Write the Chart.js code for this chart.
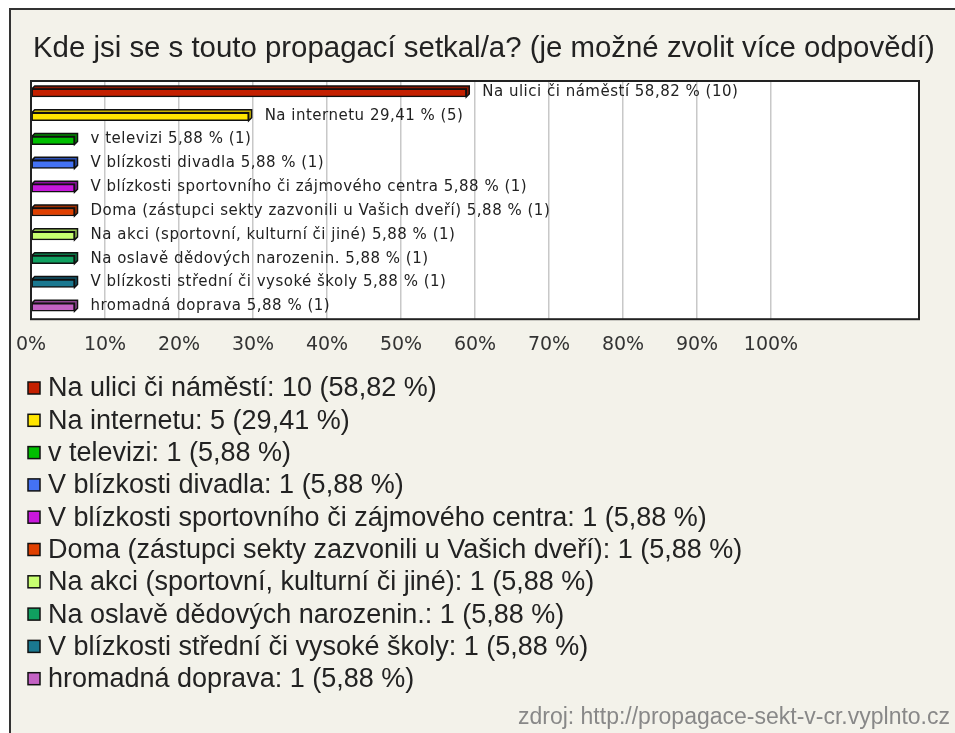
<!DOCTYPE html>
<html>
<head>
<meta charset="utf-8">
<script src="https://cdn.jsdelivr.net/npm/chart.js@4"></script>
<style>
  html, body { margin: 0; padding: 0; background: #fff; }
  canvas { display: block; }
</style>
</head>
<body>
<canvas id="chart" width="955" height="733"></canvas>
<script>
const titleText = "Kde jsi se s touto propagací setkal/a? (je možné zvolit více odpovědí)";
const sourceText = "zdroj: http://propagace-sekt-v-cr.vyplnto.cz";

const categories = [
  "Na ulici či náměstí",
  "Na internetu",
  "v televizi",
  "V blízkosti divadla",
  "V blízkosti sportovního či zájmového centra",
  "Doma (zástupci sekty zazvonili u Vašich dveří)",
  "Na akci (sportovní, kulturní či jiné)",
  "Na oslavě dědových narozenin.",
  "V blízkosti střední či vysoké školy",
  "hromadná doprava"
];
const percents = [58.82, 29.41, 5.88, 5.88, 5.88, 5.88, 5.88, 5.88, 5.88, 5.88];
const counts = [10, 5, 1, 1, 1, 1, 1, 1, 1, 1];
const colors = ["#c42000", "#ffe600", "#00bf00", "#4472f4", "#c818dc", "#e04000", "#c8ff70", "#10a060", "#1a7890", "#c462c4"];
const darkColors = ["#8a1600", "#c8b400", "#008a00", "#2c50b8", "#8e10a0", "#a02e00", "#98c850", "#0a7444", "#105468", "#8e4490"];

const pctText = p => p.toFixed(2).replace(".", ",") + " %";

// 3D look of the old bar chart: top and side face behind each bar
const bar3d = {
  id: "bar3d",
  beforeDatasetsDraw(chart){
    const ctx = chart.ctx;
    const d = 3;
    chart.getDatasetMeta(0).data.forEach((bar, i) => {
      const top = bar.y - bar.height / 2, bottom = bar.y + bar.height / 2;
      ctx.save();
      ctx.fillStyle = darkColors[i];
      ctx.strokeStyle = "#111";
      ctx.lineWidth = 1.5;
      ctx.beginPath();
      ctx.moveTo(bar.base, top);
      ctx.lineTo(bar.base + d, top - d);
      ctx.lineTo(bar.x + d, top - d);
      ctx.lineTo(bar.x + d, bottom - d);
      ctx.lineTo(bar.x, bottom);
      ctx.lineTo(bar.x, top);
      ctx.closePath();
      ctx.fill();
      ctx.stroke();
      ctx.restore();
    });
  },
  afterDatasetsDraw(chart){
    const ctx = chart.ctx;
    ctx.save();
    ctx.font = "15px 'DejaVu Sans'";
    ctx.letterSpacing = "0.5px";
    ctx.fillStyle = "#222";
    ctx.textBaseline = "middle";
    chart.getDatasetMeta(0).data.forEach((bar, i) => {
      const txt = categories[i] + " " + pctText(percents[i]) + " (" + counts[i] + ")";
      ctx.fillText(txt, bar.x + 16, bar.y - 1);
    });
    ctx.restore();
  }
};

const frame = {
  id: "frame",
  beforeDraw(chart){
    const ctx = chart.ctx;
    const a = chart.chartArea;
    ctx.save();
    ctx.fillStyle = "#fff";
    ctx.fillRect(0, 0, chart.width, chart.height);
    ctx.fillStyle = "#f3f2ea";
    ctx.fillRect(10, 9, chart.width, chart.height);
    ctx.strokeStyle = "#333";
    ctx.lineWidth = 2;
    ctx.strokeRect(10, 9, chart.width + 10, chart.height + 10);
    ctx.fillStyle = "#fff";
    ctx.fillRect(a.left, a.top, a.right - a.left, a.bottom - a.top);
    ctx.restore();
  },
  afterDraw(chart){
    const ctx = chart.ctx;
    const a = chart.chartArea;
    ctx.save();
    ctx.strokeStyle = "#222";
    ctx.lineWidth = 2;
    ctx.strokeRect(a.left, a.top, a.right - a.left, a.bottom - a.top);

    ctx.fillStyle = "#222";
    ctx.textBaseline = "middle";
    ctx.font = "29.4px 'Liberation Sans'";
    ctx.fillText(titleText, 33, 49);

    // legend
    ctx.font = "27px 'Liberation Sans'";
    categories.forEach((c, i) => {
      const y = 388 + i * 32.3;
      ctx.fillStyle = colors[i];
      ctx.fillRect(28, y - 6, 12, 12);
      ctx.strokeStyle = "#111";
      ctx.lineWidth = 1.5;
      ctx.strokeRect(28, y - 6, 12, 12);
      ctx.fillStyle = "#222";
      ctx.fillText(c + ": " + counts[i] + " (" + pctText(percents[i]) + ")", 48, y + 1);
    });

    ctx.fillStyle = "#888";
    ctx.font = "23px 'Liberation Sans'";
    ctx.textAlign = "right";
    ctx.fillText(sourceText, 950, 718);
    ctx.restore();
  }
};

new Chart(document.getElementById("chart"), {
  type: "bar",
  data: {
    labels: categories,
    datasets: [{
      data: percents,
      backgroundColor: colors,
      borderColor: "#111",
      borderWidth: 1.5,
      borderSkipped: false,
      barThickness: 8
    }]
  },
  options: {
    indexAxis: "y",
    responsive: false,
    animation: false,
    layout: { padding: { left: 31, right: 36, top: 81, bottom: 363 } },
    plugins: { legend: { display: false }, tooltip: { enabled: false } },
    scales: {
      y: { display: false },
      x: {
        min: 0,
        max: 120,
        border: { display: false },
        grid: {
          drawTicks: false,
          lineWidth: 1.5,
          color: c => (c.tick && c.tick.value <= 100 ? "#c8c8c8" : "transparent")
        },
        ticks: {
          stepSize: 10,
          padding: 14,
          color: "#333",
          font: { family: "'DejaVu Sans'", size: 19 },
          callback: v => (v <= 100 ? v + "%" : "")
        }
      }
    }
  },
  plugins: [frame, bar3d]
});
</script>
</body>
</html>
